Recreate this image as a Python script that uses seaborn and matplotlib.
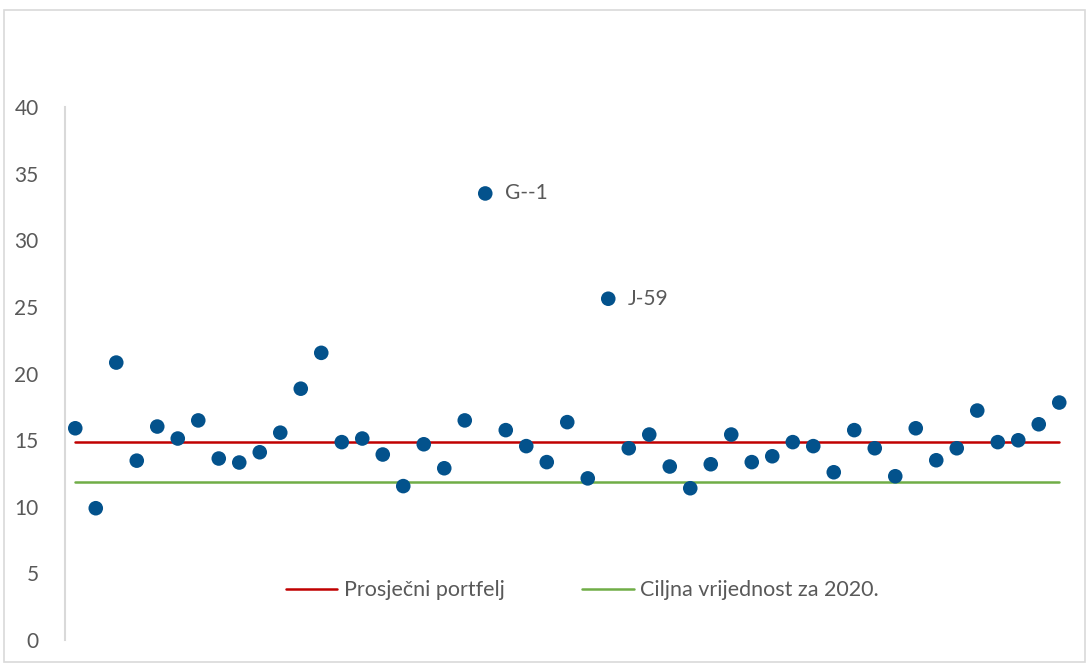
import pandas as pd
import matplotlib.pyplot as plt
import seaborn as sns
from matplotlib.patches import Rectangle

# values
values = [15.89, 9.89, 20.82, 13.46, 16.02, 15.12, 16.48, 13.62, 13.32, 14.09,
          15.56, 18.86, 21.55, 14.85, 15.12, 13.92, 11.55, 14.69, 12.89, 16.48,
          33.51, 15.75, 14.55, 13.35, 16.35, 12.13, 25.61, 14.39, 15.42, 13.02,
          11.39, 13.19, 15.42, 13.35, 13.79, 14.85, 14.55, 12.59, 15.75, 14.39,
          12.29, 15.89, 13.49, 14.39, 17.22, 14.85, 14.99, 16.19, 17.82]
labels = {21: "G--1", 27: "J-59"}
avg_value = 14.85
target_value = 11.85
avg_name = "Prosječni portfelj"
target_name = "Ciljna vrijednost za 2020."

x = list(range(1, len(values) + 1))
df = pd.DataFrame({"x": x, "y": values})
lines = pd.concat([
    pd.DataFrame({"x": x, "y": avg_value, "serija": avg_name}),
    pd.DataFrame({"x": x, "y": target_value, "serija": target_name}),
])

sns.set_style("white")
plt.rcParams['font.family'] = ['Lato', 'DejaVu Sans']
grey = "#595959"

fig = plt.figure(figsize=(10.89, 6.64), dpi=100)
ax = fig.add_axes([0.0597, 0.0361, 0.9224, 0.8028])

sns.lineplot(data=lines, x="x", y="y", hue="serija",
             palette={avg_name: "#C00000", target_name: "#70AD47"},
             linewidth=1.8, ax=ax)
sns.scatterplot(data=df, x="x", y="y", color="#03528C", s=110,
                edgecolor="none", ax=ax, zorder=3, legend=False)

for i, txt in labels.items():
    ax.annotate(txt, (i, values[i - 1]), xytext=(14, 0), textcoords="offset points",
                va="center", ha="left", fontsize=15, color=grey)

ax.set_xlim(0.5, len(values) + 0.5)
ax.set_ylim(0, 40)
ax.set_yticks(range(0, 41, 5))
ax.set_xticks([])
ax.set_xlabel("")
ax.set_ylabel("")
ax.tick_params(axis="y", length=0, labelsize=15, labelcolor=grey, pad=19)
for s in ["top", "right", "bottom"]:
    ax.spines[s].set_visible(False)
ax.spines["left"].set_color("#D9D9D9")
ax.spines["left"].set_linewidth(1.5)

ax.legend(loc="center", bbox_to_anchor=(0.515, 3.75 / 40), ncol=2, frameon=False,
          fontsize=15.5, labelcolor=grey, handlelength=2.4, handletextpad=0.3,
          columnspacing=3.6)

fig.patches.append(Rectangle((0.004, 0.003), 0.992, 0.982, transform=fig.transFigure,
                             fill=False, edgecolor="#D9D9D9", linewidth=1.2))

plt.savefig("out.png", dpi=100)
plt.close()
